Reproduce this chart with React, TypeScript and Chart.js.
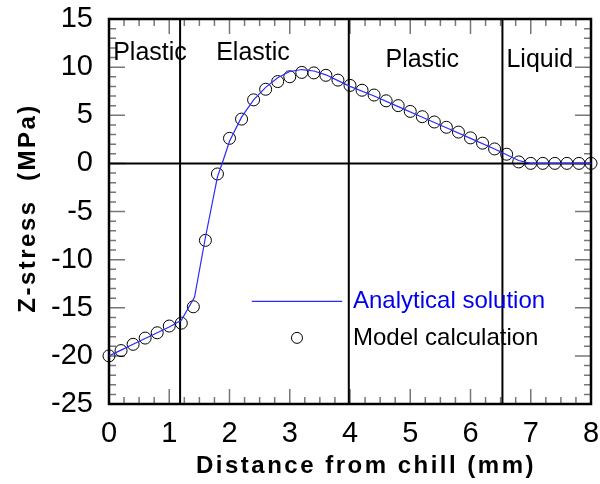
import { useEffect, useRef } from "react";
import { Chart, registerables } from "chart.js";
Chart.register(...registerables);

const FONT = "'Liberation Sans', Arial, sans-serif";

const xModel = [0, 0.2, 0.4, 0.6, 0.8, 1.0, 1.2, 1.4, 1.6, 1.8, 2.0, 2.2, 2.4, 2.6, 2.8, 3.0, 3.2, 3.4, 3.6, 3.8, 4.0, 4.2, 4.4, 4.6, 4.8, 5.0, 5.2, 5.4, 5.6, 5.8, 6.0, 6.2, 6.4, 6.6, 6.8, 7.0, 7.2, 7.4, 7.6, 7.8, 8.0];
const yModel = [-20.0, -19.45, -18.8, -18.15, -17.6, -16.9, -16.6, -14.9, -8.0, -1.1, 2.6, 4.6, 6.6, 7.7, 8.5, 9.0, 9.45, 9.4, 9.15, 8.65, 8.1, 7.6, 7.1, 6.5, 6.0, 5.4, 4.85, 4.3, 3.75, 3.25, 2.65, 2.1, 1.5, 0.95, 0.15, 0, 0, 0, 0, 0, 0];

const xAnalytical = [0, 0.2, 0.4, 0.6, 0.8, 1.0, 1.2, 1.42, 1.6, 1.8, 1.9, 2.0, 2.2, 2.4, 2.6, 2.8, 3.0, 3.2, 3.4, 3.6, 3.8, 4.0, 4.4, 4.8, 5.2, 5.6, 6.0, 6.4, 6.6, 6.8, 7.0, 8.0];
const yAnalytical = [-20.0, -19.4, -18.8, -18.2, -17.6, -17.0, -16.3, -13.9, -7.7, -1.4, 0.4, 2.3, 4.8, 6.6, 7.9, 8.9, 9.55, 9.75, 9.6, 9.2, 8.6, 8.0, 7.0, 5.9, 4.8, 3.7, 2.6, 1.5, 0.9, 0.3, 0, 0];

const boundaryX = [1.18, 3.98, 6.53];
const regionNames = ["Plastic", "Elastic", "Plastic", "Liquid"];
const regionX = [0.68, 2.39, 5.2, 7.15];
const regionY = [11.43, 11.43, 10.7, 10.7];

const seriesNames = ["Analytical solution", "Model calculation"];
const xTitle = "Distance from chill (mm)";
const yTitle = "Z-stress  (MPa)";

const X_MIN = 0, X_MAX = 8, Y_MIN = -25, Y_MAX = 15;

const overlay = {
  id: "overlay",
  beforeDatasetsDraw(chart: any) {
    const { ctx, chartArea: a, scales } = chart;
    const xs = scales.x, ys = scales.y;
    ctx.save();
    ctx.strokeStyle = "#777";
    ctx.lineWidth = 1.5;
    ctx.beginPath();
    for (let i = 0; i <= 32; i++) {
      const v = i * 0.25;
      const px = xs.getPixelForValue(v);
      const len = i % 4 === 0 ? 15 : 7;
      ctx.moveTo(px, a.bottom); ctx.lineTo(px, a.bottom - len);
      ctx.moveTo(px, a.top); ctx.lineTo(px, a.top + len);
    }
    for (let v = Y_MIN; v <= Y_MAX; v++) {
      const py = ys.getPixelForValue(v);
      const len = v % 5 === 0 ? 16 : 7;
      ctx.moveTo(a.left, py); ctx.lineTo(a.left + len, py);
      ctx.moveTo(a.right, py); ctx.lineTo(a.right - len, py);
    }
    ctx.stroke();
    ctx.strokeStyle = "#000";
    ctx.lineWidth = 2;
    ctx.beginPath();
    for (const b of boundaryX) {
      const px = xs.getPixelForValue(b);
      ctx.moveTo(px, a.top); ctx.lineTo(px, a.bottom);
    }
    const y0 = ys.getPixelForValue(0);
    ctx.moveTo(a.left, y0); ctx.lineTo(a.right, y0);
    ctx.stroke();
    ctx.lineWidth = 2.5;
    ctx.strokeRect(a.left, a.top, a.right - a.left, a.bottom - a.top);
    ctx.restore();
  },
  afterDatasetsDraw(chart: any) {
    const { ctx, scales } = chart;
    const xs = scales.x, ys = scales.y;
    ctx.save();
    ctx.fillStyle = "#000";
    ctx.font = `25px ${FONT}`;
    ctx.textAlign = "center";
    ctx.textBaseline = "middle";
    regionNames.forEach((n, i) => {
      ctx.fillText(n, xs.getPixelForValue(regionX[i]), ys.getPixelForValue(regionY[i]));
    });
    const ly1 = ys.getPixelForValue(-14.34);
    const ly2 = ys.getPixelForValue(-18.13);
    ctx.strokeStyle = "#2a2aff";
    ctx.lineWidth = 1.2;
    ctx.beginPath();
    ctx.moveTo(xs.getPixelForValue(2.37), ly1);
    ctx.lineTo(xs.getPixelForValue(3.87), ly1);
    ctx.stroke();
    ctx.strokeStyle = "#000";
    ctx.lineWidth = 1;
    ctx.beginPath();
    ctx.arc(xs.getPixelForValue(3.12), ly2, 5.5, 0, Math.PI * 2);
    ctx.stroke();
    ctx.textAlign = "left";
    ctx.font = `24px ${FONT}`;
    ctx.fillStyle = "#0000ee";
    ctx.fillText(seriesNames[0], xs.getPixelForValue(4.05), ly1);
    ctx.fillStyle = "#000";
    ctx.fillText(seriesNames[1], xs.getPixelForValue(4.05), ly2);
    ctx.font = `bold 24px ${FONT}`;
    (ctx as any).letterSpacing = "2.5px";
    ctx.textAlign = "center";
    ctx.fillText(xTitle, 366, 466);
    ctx.translate(28, 208);
    ctx.rotate(-Math.PI / 2);
    ctx.fillText(yTitle, 0, 0);
    ctx.restore();
  },
};

export default function App() {
  const ref = useRef<HTMLCanvasElement>(null);
  useEffect(() => {
    if (!ref.current) return;
    const chart = new Chart(ref.current, {
      type: "scatter",
      data: {
        datasets: [
          {
            label: seriesNames[0],
            data: xAnalytical.map((x, i) => ({ x, y: yAnalytical[i] })),
            showLine: true,
            borderColor: "#2a2aff",
            borderWidth: 1.2,
            pointRadius: 0,
            tension: 0,
            order: 0,
          },
          {
            label: seriesNames[1],
            data: xModel.map((x, i) => ({ x, y: yModel[i] })),
            showLine: false,
            pointRadius: 6,
            pointStyle: "circle",
            borderColor: "#000",
            backgroundColor: "rgba(0,0,0,0)",
            borderWidth: 1,
            clip: false,
            order: 1,
          } as any,
        ],
      },
      options: {
        responsive: false,
        animation: false,
        layout: { padding: { top: 19, right: 9, left: 0, bottom: 0 } },
        plugins: { legend: { display: false }, tooltip: { enabled: false } },
        scales: {
          x: {
            type: "linear",
            min: X_MIN,
            max: X_MAX,
            grid: { display: false, drawTicks: false },
            border: { display: false },
            ticks: { stepSize: 1, color: "#000", font: { family: FONT, size: 29 }, padding: 13, maxRotation: 0 },
            afterFit: (s: any) => { s.height = 80; s.paddingLeft = 0; s.paddingRight = 0; },
          },
          y: {
            type: "linear",
            min: Y_MIN,
            max: Y_MAX,
            grid: { display: false, drawTicks: false },
            border: { display: false },
            ticks: { stepSize: 5, color: "#000", font: { family: FONT, size: 29 }, padding: 16 },
            afterFit: (s: any) => { s.width = 109; s.paddingTop = 0; s.paddingBottom = 0; },
          },
        },
      },
      plugins: [overlay],
    });
    return () => chart.destroy();
  }, []);
  return (
    <div style={{ position: "absolute", left: 0, top: 0, width: 600, height: 484 }}>
      <canvas ref={ref} width={600} height={484} style={{ display: "block" }} />
    </div>
  );
}
